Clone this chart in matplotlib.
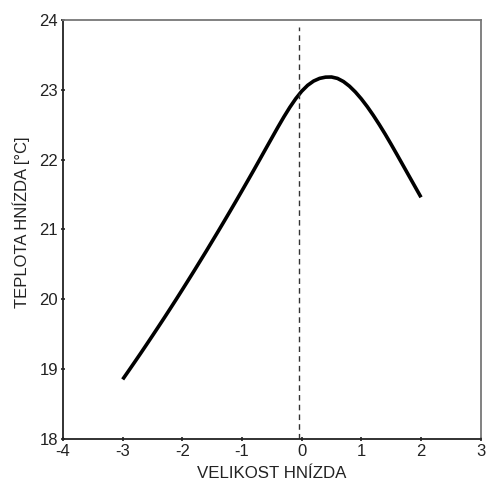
import matplotlib
matplotlib.use("Agg")
import matplotlib.pyplot as plt

plt.rcParams['font.family'] = ['Liberation Sans', 'DejaVu Sans']
plt.rcParams['axes.unicode_minus'] = False

# data (step 0.1)
velikost = [round(-3 + 0.1 * i, 1) for i in range(51)]
teplota = [18.850, 18.973, 19.097, 19.222, 19.349, 19.477, 19.606, 19.736, 19.868, 20.001,
           20.136, 20.272, 20.409, 20.548, 20.687, 20.829, 20.971, 21.115, 21.260, 21.406,
           21.554, 21.703, 21.853, 22.005, 22.158, 22.310, 22.462, 22.609, 22.747, 22.872,
           22.979, 23.064, 23.125, 23.163, 23.181, 23.183, 23.163, 23.118, 23.052, 22.968,
           22.869, 22.757, 22.634, 22.502, 22.363, 22.217, 22.067, 21.915, 21.763, 21.611,
           21.459]
dash_x = -0.04
xticks = [-4, -3, -2, -1, 0, 1, 2, 3]
yticks = [18, 19, 20, 21, 22, 23, 24]

fig = plt.figure(figsize=(4.9, 4.84), dpi=100)
ax = fig.add_axes([0.1286, 0.0936, 0.981 - 0.1286, 0.9587 - 0.0936])

ax.plot(velikost, teplota, color='black', lw=2.6, solid_capstyle='butt', solid_joinstyle='round')
ax.plot([dash_x, dash_x], [18, 23.9], color='#333333', lw=1.0, dashes=(4, 3))

ax.set_xlim(-4, 3)
ax.set_ylim(18, 24)
ax.set_xticks(xticks)
ax.set_yticks(yticks)
ax.tick_params(direction='inout', length=3, width=1.2, labelsize=12, pad=2, colors='#222222')

for side in ['left', 'bottom']:
    ax.spines[side].set_color('#222222')
    ax.spines[side].set_linewidth(1.3)
for side in ['top', 'right']:
    ax.spines[side].set_color('#777777')
    ax.spines[side].set_linewidth(1.3)

ax.set_xlabel('VELIKOST HNÍZDA', fontsize=12.2, color='#222222', labelpad=5)
ax.set_ylabel('TEPLOTA HNÍZDA [°C]', fontsize=12, color='#222222')
ax.yaxis.set_label_coords(-0.079, 0.517)

plt.savefig("out.png", dpi=100)
